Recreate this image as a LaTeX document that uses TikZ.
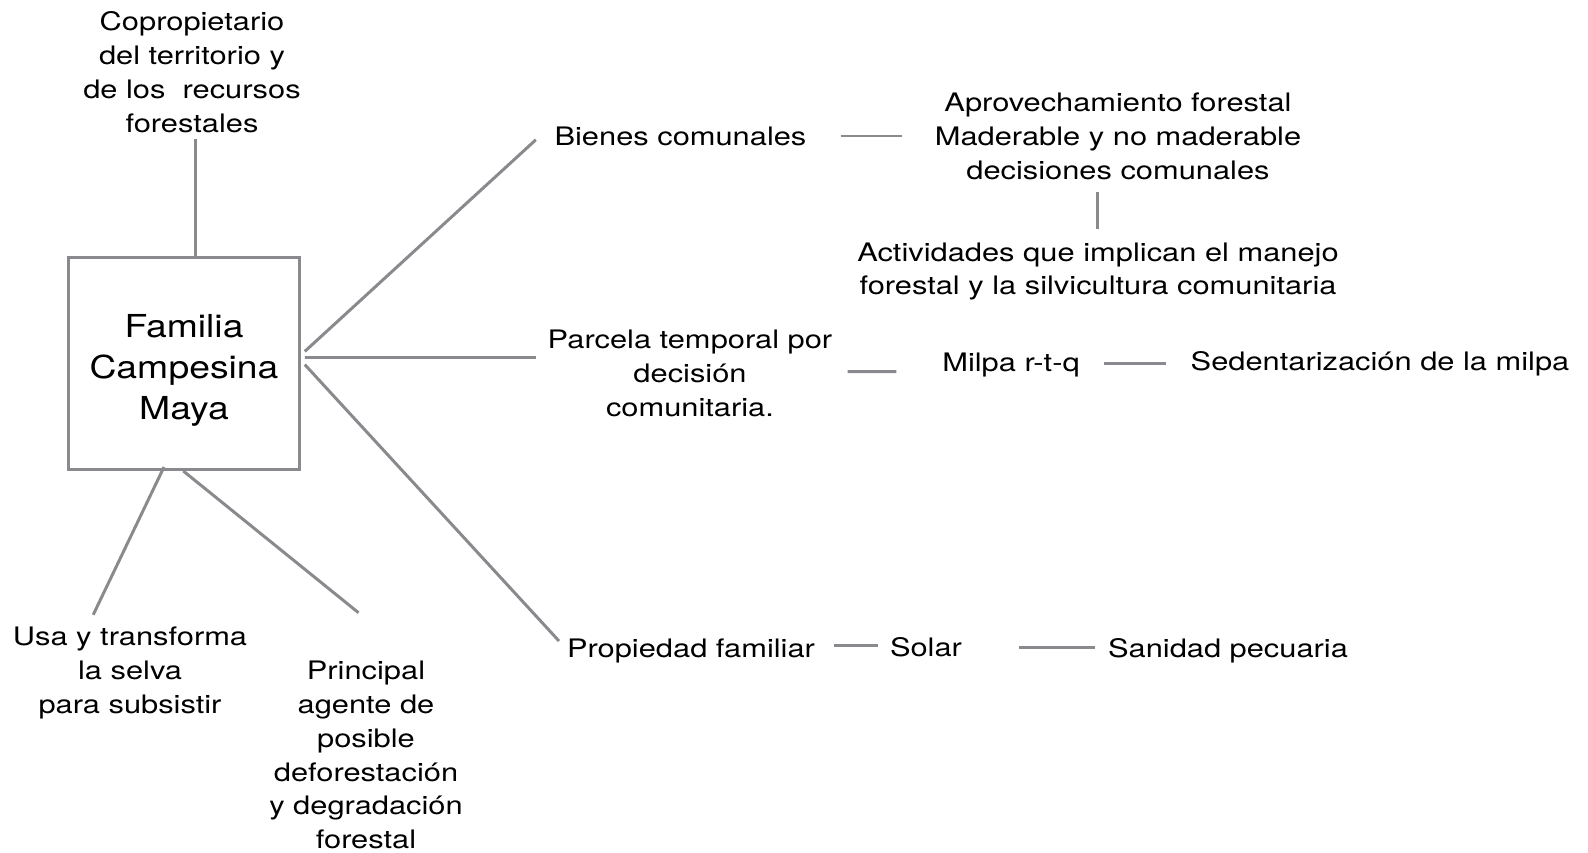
\documentclass[tikz,border=0pt]{standalone}
\usepackage{fontspec}
\setmainfont{TeX Gyre Heros}[FakeStretch=1.21]
\newfontfamily\famfont{TeX Gyre Heros}[FakeStretch=1.18]
\usetikzlibrary{positioning,calc}
\definecolor{linegray}{RGB}{138,138,142}

\begin{document}
\begin{tikzpicture}
[x=0.02cm,y=-0.02cm,
txt/.style={align=center,inner sep=0pt,font=\fontsize{14.5}{19.3}\selectfont},
famnode/.style={draw=linegray,line width=1.7pt,minimum width=4.64cm,minimum height=4.26cm,
  font=\famfont\fontsize{18}{23.4}\selectfont},
link/.style={draw=linegray,line width=1.7pt}]
\useasboundingbox (0,0) rectangle (1588,852);
%%
% central box
%%
\node[famnode] (fam) at (184,363.5)
  {\raisebox{-0.28cm}[0pt][0pt]{\begin{tabular}{@{}c@{}}Familia\\Campesina\\Maya\end{tabular}}};
\node[txt] (cop) at (192,72) {Copropietario\\del territorio y\\de los\ \ recursos\\forestales};
\node[txt] (usa) at (130,673) {Usa y transforma\\la selva\\para subsistir};
\node[txt] (princ) at (366,755) {Principal\\agente de\\posible\\deforestaci\'on\\y degradaci\'on\\forestal};
%%
% branches
%%
\node[txt] (bien) at (680.5,136) {Bienes comunales};
\node[txt] (aprov) at (1118,136) {Aprovechamiento forestal\\Maderable y no maderable\\decisiones comunales};
\node[txt] (activ) at (1098,271.5) {Actividades que implican el manejo\\forestal y la silvicultura comunitaria};
\node[txt] (parc) at (690,373) {Parcela temporal por\\decisi\'on\\comunitaria.};
\node[txt] (milpa) at (1011,365) {Milpa r-t-q};
\node[txt] (sed) at (1380,364) {Sedentarizaci\'on de la milpa};
\node[txt] (prop) at (691,651) {Propiedad familiar};
\node[txt] (solar) at (926,647) {Solar};
\node[txt] (sanid) at (1228,651) {Sanidad pecuaria};
%%
% connectors from the box
%%
\path[link]
([shift={(11.5,-106.5)}]fam.center) edge ([shift={(3.5,67)}]cop.center)
([shift={(120.8,-12.1)}]fam.center) edge ([shift={(-144.7,3.8)}]bien.center)
([shift={(120.8,-6)}]fam.center) edge ([shift={(-154.2,-15.5)}]parc.center)
([shift={(120.8,1.1)}]fam.center) edge ([shift={(-132,-10)}]prop.center)
([shift={(-20,103.5)}]fam.center) edge ([shift={(-36.8,-58.2)}]usa.center)
([shift={(-0.7,107.5)}]fam.center) edge ([shift={(-7.5,-142.3)}]princ.center);
%%
% connectors between branches
%%
\path[link]
([shift={(160,0)}]bien.center) edge ([shift={(-215.6,0)}]aprov.center)
([shift={(-21,56.4)}]aprov.center) edge ([shift={(-1,-42.5)}]activ.center)
([shift={(157.7,-1.3)}]parc.center) edge ([shift={(-114.7,6.7)}]milpa.center)
([shift={(93,-1.4)}]milpa.center) edge ([shift={(-214.3,-0.4)}]sed.center)
([shift={(142.5,-6)}]prop.center) edge ([shift={(-48,-2)}]solar.center)
([shift={(93,0)}]solar.center) edge ([shift={(-133,-4)}]sanid.center);
\end{tikzpicture}
\end{document}
